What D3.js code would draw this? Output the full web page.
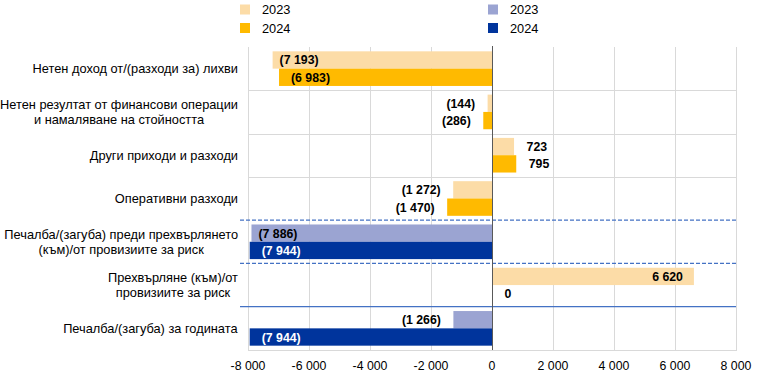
<!DOCTYPE html>
<html><head><meta charset="utf-8">
<script src="https://cdn.jsdelivr.net/npm/d3@7"></script>
<style>
html,body{margin:0;padding:0;background:#fff;}
svg{display:block;font-family:"Liberation Sans",Arial,sans-serif;}
</style></head>
<body>
<svg id="chart" width="765" height="382"></svg>
<script>
const categories = [
  ["Нетен доход от/(разходи за) лихви"],
  ["Нетен резултат от финансови операции", "и намаляване на стойността"],
  ["Други приходи и разходи"],
  ["Оперативни разходи"],
  ["Печалба/(загуба) преди прехвърлянето", "(към)/от провизиите за риск"],
  ["Прехвърляне (към)/от", "провизиите за риск"],
  ["Печалба/(загуба) за годината"]
];
const values2023 = [-7193, -144, 723, -1272, -7886, 6620, -1266];
const values2024 = [-6983, -286, 795, -1470, -7944, 0, -7944];
const rowGroup = ["orange","orange","orange","orange","blue","orange","blue"];
const seriesNames = ["2023", "2024"];
const xTicks = [-8000, -6000, -4000, -2000, 0, 2000, 4000, 6000, 8000];

const palette = {
  orange: ["#FCDCA7", "#FFBA00"],
  blue: ["#9BA4D2", "#00349C"]
};

const svg = d3.select("#chart");
const pL = 248, pR = 736, pT = 47, pB = 350;

const x = d3.scaleLinear().domain([-8000, 8000]).range([pL, pR]);
const y = d3.scaleBand().domain(d3.range(categories.length)).range([pT, pB]).padding(0);
const ySub = d3.scaleBand().domain([0, 1]).range([0, y.bandwidth()]).paddingInner(0).paddingOuter(0.25);

const fmtNum = v => d3.format(",")(Math.abs(v)).replace(/,/g, " ");
const fmtLabel = v => v < 0 ? "(" + fmtNum(v) + ")" : fmtNum(v);
const fmtTick = v => (v < 0 ? "-" : "") + fmtNum(v);

// vertical gridlines
svg.append("g").selectAll("line").data(xTicks).join("line")
  .attr("x1", d => Math.round(x(d)) + 0.5).attr("x2", d => Math.round(x(d)) + 0.5)
  .attr("y1", pT).attr("y2", pB)
  .attr("stroke", "#D9D9D9").attr("stroke-width", 1);

// horizontal row separators (grey for first rows)
const seps = d3.range(1, categories.length);
svg.append("g").selectAll("line").data(seps.filter(i => i < 4)).join("line")
  .attr("x1", pL).attr("x2", pR)
  .attr("y1", d => Math.round(y(d)) + 0.5).attr("y2", d => Math.round(y(d)) + 0.5)
  .attr("stroke", "#D9D9D9");
// bottom line
svg.append("line").attr("x1", pL).attr("x2", pR + 1)
  .attr("y1", pB + 0.5).attr("y2", pB + 0.5).attr("stroke", "#D9D9D9");

// bars
const rows = categories.map((c, i) => ({i, vals: [values2023[i], values2024[i]], g: rowGroup[i]}));
const barData = [];
rows.forEach(r => r.vals.forEach((v, s) => barData.push({row: r.i, s, v, g: r.g})));

svg.append("g").selectAll("rect").data(barData).join("rect")
  .attr("x", d => x(Math.min(0, d.v)))
  .attr("width", d => Math.abs(x(d.v) - x(0)))
  .attr("y", d => y(d.row) + ySub(d.s))
  .attr("height", ySub.bandwidth())
  .attr("fill", d => palette[d.g][d.s]);

// blue separator lines
[4, 5].forEach(i => {
  svg.append("line").attr("x1", 240).attr("x2", pR)
    .attr("y1", y(i)).attr("y2", y(i))
    .attr("stroke", "#4472C4").attr("stroke-width", 1.2).attr("stroke-dasharray", "4,2");
});
svg.append("line").attr("x1", 240).attr("x2", pR)
  .attr("y1", y(6)).attr("y2", y(6))
  .attr("stroke", "#4472C4").attr("stroke-width", 1.3);

// zero axis
svg.append("line").attr("x1", Math.round(x(0)) + 0.5).attr("x2", Math.round(x(0)) + 0.5)
  .attr("y1", pT - 1).attr("y2", pB)
  .attr("stroke", "#595959").attr("stroke-width", 1);

// data labels
svg.append("g").selectAll("text").data(barData).join("text")
  .attr("font-size", 12.3).attr("font-weight", "bold")
  .attr("dominant-baseline", "central")
  .attr("y", d => y(d.row) + ySub(d.s) + ySub.bandwidth() / 2 + 0.5)
  .each(function(d) {
    const t = d3.select(this);
    const end = x(d.v);
    const big = Math.abs(d.v) > 5000;
    let xx, anchor, fill = "#000";
    if (d.v < 0 && big) { xx = end + (d.s === 0 ? 7 : 12); anchor = "start"; }
    else if (d.v < 0) { xx = end - 12.5; anchor = "end"; }
    else if (big) { xx = end - 11; anchor = "end"; }
    else { xx = end + 12.5; anchor = "start"; }
    if (big && d.g === "blue" && d.s === 1) fill = "#fff";
    t.attr("x", xx).attr("text-anchor", anchor).attr("fill", fill).text(fmtLabel(d.v));
  });

// category labels
const catG = svg.append("g").selectAll("text").data(categories).join("text")
  .attr("font-size", 12.8).attr("fill", "#000")
  .attr("text-anchor", "middle");
catG.each(function(lines, i) {
  const t = d3.select(this);
  const cy = y(i) + y.bandwidth() / 2;
  const lh = 15;
  lines.forEach((ln, k) => {
    t.append("tspan").attr("x", 0)
      .attr("y", cy + (k - (lines.length - 1) / 2) * lh)
      .attr("dominant-baseline", "central").text(ln);
  });
  const w = this.getBBox().width;
  t.selectAll("tspan").attr("x", 238 - w / 2);
});

// x axis tick labels
svg.append("g").selectAll("text").data(xTicks).join("text")
  .attr("x", d => x(d)).attr("y", 366)
  .attr("text-anchor", "middle").attr("dominant-baseline", "central")
  .attr("font-size", 12.3).attr("fill", "#000")
  .text(fmtTick);

// legends
const legends = [
  {x: 240, g: "orange"},
  {x: 488, g: "blue"}
];
legends.forEach(L => {
  seriesNames.forEach((name, s) => {
    const yy = 4.5 + s * 18.5;
    svg.append("rect").attr("x", L.x).attr("y", yy).attr("width", 10).attr("height", 10)
      .attr("fill", palette[L.g][s]);
    svg.append("text").attr("x", L.x + 22).attr("y", yy + 5)
      .attr("dominant-baseline", "central").attr("font-size", 12.8).attr("fill", "#000")
      .text(name);
  });
});
</script>
</body></html>
